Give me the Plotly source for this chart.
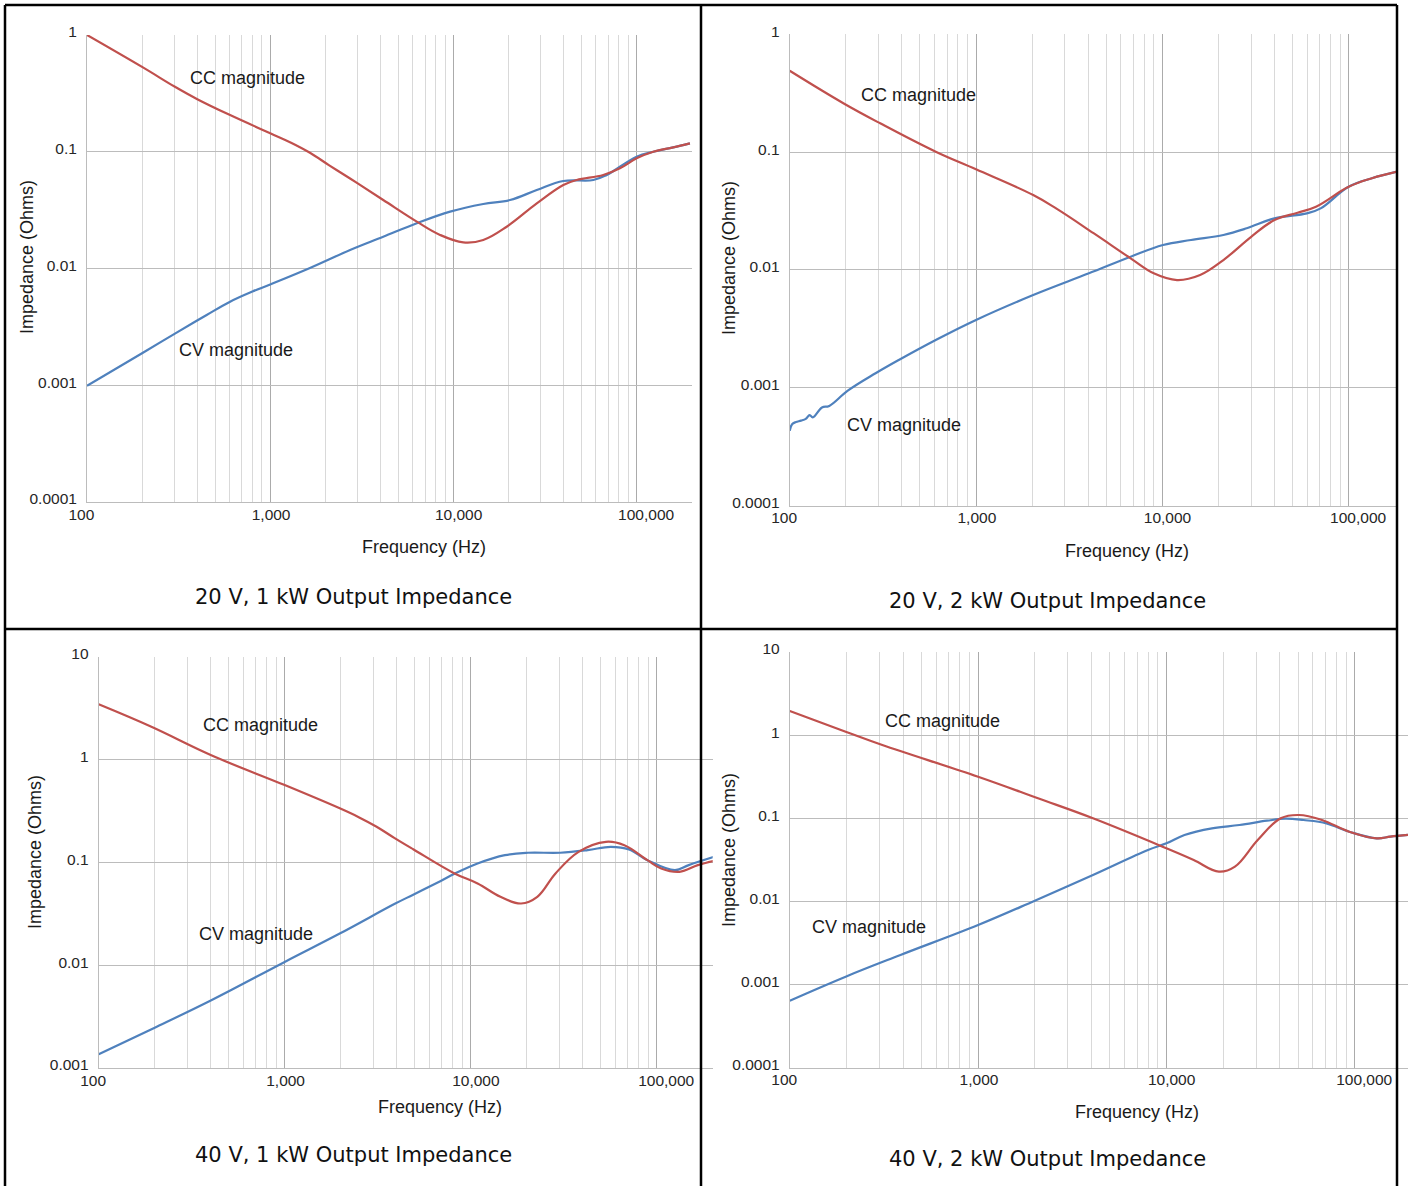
import plotly.graph_objects as go

W, H = 1408, 1186

# ---------------- data: |Z| in ohms vs frequency in Hz ----------------
# 20 V, 1 kW
cc_20v1k_f = [100, 203, 302, 400, 604, 1000, 1300, 1648, 2100, 2729, 4140, 6310, 8453, 11324,
              14555, 19543, 28510, 39811, 47098, 65766, 81096, 100000, 123310, 158489, 195434]
cc_20v1k_z = [1.0, 0.525, 0.36, 0.282, 0.206, 0.144, 0.1195, 0.098, 0.0765, 0.059, 0.0386, 0.0252,
              0.0194, 0.01675, 0.01754, 0.0228, 0.0361, 0.0519, 0.0573, 0.0633, 0.0722, 0.0878,
              0.1, 0.109, 0.118]
cv_20v1k_f = [100, 203, 302, 450, 604, 800, 1000, 1648, 2729, 4140, 6310, 9594, 14555, 20370,
              28510, 39811, 58076, 68707, 100000, 123310, 158489, 195434]
cv_20v1k_z = [0.00099, 0.00191, 0.00277, 0.0040, 0.0052, 0.00635, 0.0073, 0.0101, 0.0144,
              0.0187, 0.0244, 0.0307, 0.0357, 0.0386, 0.047, 0.0562, 0.0573, 0.0633, 0.0907,
              0.1, 0.109, 0.118]

# 20 V, 2 kW
cc_20v2k_f = [100, 194, 306, 608, 1000, 2028, 2704, 4276, 6761, 8995, 11995, 15959,
              21281, 29992, 39994, 53211, 66834, 100000, 133352, 199067]
cc_20v2k_z = [0.49, 0.260, 0.1755, 0.1007, 0.0714, 0.0432, 0.0331, 0.0205, 0.01254, 0.00935, 0.0082,
              0.00905, 0.01213, 0.0191, 0.0265, 0.0306, 0.0344, 0.0508, 0.06, 0.0705]
cv_20v2k_f = [100, 103, 108, 115, 122, 128, 133, 149, 163, 205, 289, 385, 608, 1000, 2028,
              4036, 6761, 10093, 14256, 21281, 28379, 39994, 59704, 70795, 100000, 133352, 199067]
cv_20v2k_z = [0.00043, 0.00049, 0.000511, 0.000525, 0.000544, 0.000586, 0.00056, 0.00068, 0.0007,
              0.000943, 0.001325, 0.001718, 0.00254, 0.00376, 0.00612, 0.00935, 0.01294,
              0.01626, 0.01795, 0.0198, 0.02255, 0.0274, 0.0302, 0.0333, 0.0508, 0.06, 0.0705]

# 40 V, 1 kW
cc_40v1k_f = [100, 192, 403, 1000, 1977, 2500, 3119, 3900, 4909, 8185, 10889, 14454, 18664,
              22803, 28576, 38019, 53333, 66988, 89125, 105682, 132434, 166341, 203236]
cc_40v1k_z = [3.44, 2.08, 1.10, 0.564, 0.335, 0.275, 0.222, 0.172, 0.134, 0.078, 0.0623,
              0.0462, 0.0398, 0.0462, 0.078, 0.1265, 0.1585, 0.147, 0.105, 0.0873, 0.0809,
              0.094, 0.1035]
cv_40v1k_f = [100, 204, 403, 1000, 1977, 3908, 4909, 6902, 8185, 10889, 15276, 20324,
              30269, 42560, 56624, 70958, 89125, 125314, 148594, 203236]
cv_40v1k_z = [0.00136, 0.00251, 0.00456, 0.01076, 0.0203, 0.0395, 0.0485, 0.066, 0.0775,
              0.0975, 0.1175, 0.124, 0.124, 0.1315, 0.1416, 0.1337, 0.105, 0.084, 0.094, 0.113]

# 40 V, 2 kW
cc_40v2k_f = [100, 198, 310, 1000, 2080, 4074, 10000, 13964, 19011, 23121, 30549, 40458,
              50582, 66988, 93541, 130918, 154882, 191867]
cc_40v2k_z = [1.95, 1.099, 0.760, 0.316, 0.174, 0.1, 0.0436, 0.0315, 0.0228, 0.0262, 0.0548, 0.1,
              0.1095, 0.0953, 0.069, 0.0574, 0.0601, 0.063]
cv_40v2k_f = [100, 198, 387, 1000, 2000, 4074, 7980, 10000, 12474, 17458, 24434, 34198,
              42756, 53456, 70795, 93541, 130918, 154882, 191867]
cv_40v2k_z = [0.00064, 0.001245, 0.00227, 0.0052, 0.0102, 0.0208, 0.0416, 0.05, 0.063, 0.0757,
              0.083, 0.0935, 0.0989, 0.0953, 0.0869, 0.069, 0.0574, 0.0601, 0.063]

# axis ticks
x_tick_vals = [100, 1000, 10000, 100000]
x_tick_text = ["100", "1,000", "10,000", "100,000"]
x_minor_vals = [m * 10 ** k for k in range(2, 6) for m in range(2, 10)]
y_tick_vals = [0.0001, 0.001, 0.01, 0.1, 1, 10]
y_tick_text = ["0.0001", "0.001", "0.01", "0.1", "1", "10"]

panel_titles = ["20 V, 1 kW Output Impedance", "20 V, 2 kW Output Impedance",
                "40 V, 1 kW Output Impedance", "40 V, 2 kW Output Impedance"]

# ---------------- styling ----------------
RED = "#c0504d"
BLUE = "#4f81bd"
GRID_X_MAJOR = "#ababab"
GRID_Y_MAJOR = "#bcbcbc"
GRID_MINOR = "#d9d9d9"
TICK_FONT = dict(family="Arial, Liberation Sans, sans-serif", size=15.5, color="#262626")
LABEL_FONT = dict(family="Arial, Liberation Sans, sans-serif", size=18, color="#1a1a1a")
TITLE_FONT = dict(family="Verdana, DejaVu Sans, sans-serif", size=21, color="#111111")

# per-panel geometry in pixels: left edge (100 Hz), px per decade, log10 of right end,
# top/bottom of plot area and log10 y range
panels = [
    dict(left=87.0, dec=183.2, xmax=5.301, top=35.0, bot=502.0, yr=[-4, 0],
         cc=(cc_20v1k_f, cc_20v1k_z), cv=(cv_20v1k_f, cv_20v1k_z),
         cc_lab=(247, 78), cv_lab=(236, 350), xt=(424, 547), yt=(27, 257), tt=(353, 597)),
    dict(left=789.7, dec=186.3, xmax=5.26, top=34.3, bot=505.5, yr=[-4, 0],
         cc=(cc_20v2k_f, cc_20v2k_z), cv=(cv_20v2k_f, cv_20v2k_z),
         cc_lab=(918, 95), cv_lab=(904, 425), xt=(1127, 551), yt=(729, 258), tt=(1047, 601)),
    dict(left=98.7, dec=186.0, xmax=5.301, top=656.7, bot=1068.0, yr=[-3, 1],
         cc=(cc_40v1k_f, cc_40v1k_z), cv=(cv_40v1k_f, cv_40v1k_z),
         cc_lab=(260, 725), cv_lab=(256, 934), xt=(440, 1107), yt=(35, 852), tt=(353, 1155)),
    dict(left=789.8, dec=188.3, xmax=5.283, top=652.0, bot=1067.7, yr=[-4, 1],
         cc=(cc_40v2k_f, cc_40v2k_z), cv=(cv_40v2k_f, cv_40v2k_z),
         cc_lab=(942, 721), cv_lab=(869, 927), xt=(1137, 1112), yt=(729, 850), tt=(1047, 1159)),
]


def px(x):
    return x / W


def py(y):
    return 1 - y / H


fig = go.Figure()
layout = dict(
    width=W, height=H, autosize=False,
    margin=dict(l=0, r=0, t=0, b=0, pad=0, autoexpand=False),
    paper_bgcolor="white", plot_bgcolor="white",
    showlegend=False,
)
annotations = []

for i, p in enumerate(panels, start=1):
    xa = "x" if i == 1 else f"x{i}"
    ya = "y" if i == 1 else f"y{i}"
    right = p["left"] + p["dec"] * (p["xmax"] - 2)
    layout["xaxis" if i == 1 else f"xaxis{i}"] = dict(
        type="log", range=[2, p["xmax"]], domain=[px(p["left"]), min(1.0, px(right))],
        anchor=ya, tickmode="array", tickvals=x_tick_vals, ticktext=x_tick_text,
        showgrid=True, gridcolor=GRID_X_MAJOR, gridwidth=1,
        minor=dict(tickmode="array", tickvals=x_minor_vals, showgrid=True,
                   gridcolor=GRID_MINOR, gridwidth=1),
        showline=True, linecolor=GRID_Y_MAJOR, linewidth=1, zeroline=False,
        ticks="", tickfont=TICK_FONT, ticklabelposition="outside right",
        ticklabelshift=-19, ticklabelstandoff=-2, automargin=False, fixedrange=True,
    )
    layout["yaxis" if i == 1 else f"yaxis{i}"] = dict(
        type="log", range=p["yr"], domain=[py(p["bot"]), py(p["top"])],
        anchor=xa, tickmode="array", tickvals=y_tick_vals, ticktext=y_tick_text,
        showgrid=True, gridcolor=GRID_Y_MAJOR, gridwidth=1,
        showline=True, linecolor=GRID_Y_MAJOR, linewidth=1, zeroline=False,
        ticks="", tickfont=TICK_FONT, ticklabelstandoff=6, ticklabelshift=-3,
        automargin=False, fixedrange=True,
    )

    # CV drawn first so the CC trace sits on top where they overlap
    fig.add_trace(go.Scatter(x=p["cv"][0], y=p["cv"][1], mode="lines",
                             line=dict(color=BLUE, width=2.2, shape="spline", smoothing=1.1),
                             xaxis=xa, yaxis=ya, name="CV magnitude"))
    fig.add_trace(go.Scatter(x=p["cc"][0], y=p["cc"][1], mode="lines",
                             line=dict(color=RED, width=2.2, shape="spline", smoothing=1.1),
                             xaxis=xa, yaxis=ya, name="CC magnitude"))

    for text, pos, font, rot in [
        ("CC magnitude", p["cc_lab"], LABEL_FONT, 0),
        ("CV magnitude", p["cv_lab"], LABEL_FONT, 0),
        ("Frequency (Hz)", p["xt"], LABEL_FONT, 0),
        ("Impedance (Ohms)", p["yt"], LABEL_FONT, -90),
        (panel_titles[i - 1], p["tt"], TITLE_FONT, 0),
    ]:
        annotations.append(dict(text=text, x=px(pos[0]), y=py(pos[1]), xref="paper", yref="paper",
                                xanchor="center", yanchor="middle", showarrow=False,
                                font=font, textangle=rot))

# frame lines dividing the four panels
border = dict(color="black", width=2.5)
frame = [((5, 5), (1397, 5)), ((5, 5), (5, H)), ((1397, 5), (1397, H)),
         ((701, 5), (701, H)), ((5, 629), (1397, 629))]
shapes = [dict(type="line", xref="paper", yref="paper", x0=px(a[0]), y0=py(a[1]),
               x1=px(b[0]), y1=py(b[1]), line=border, layer="above") for a, b in frame]

layout["annotations"] = annotations
layout["shapes"] = shapes
fig.update_layout(**layout)

fig.write_html("out.html", config=dict(displayModeBar=False))
